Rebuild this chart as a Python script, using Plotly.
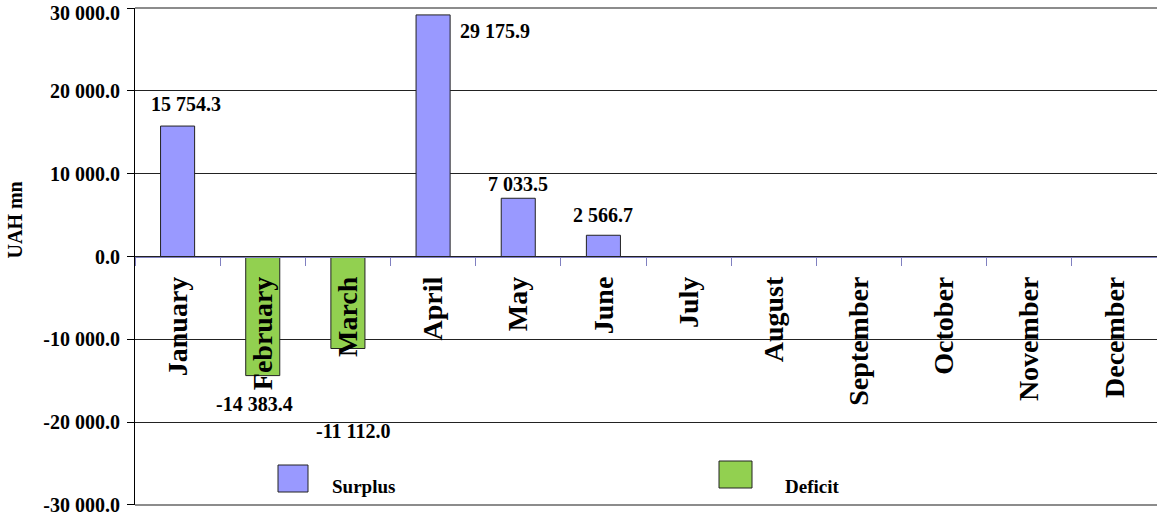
import plotly.graph_objects as go

months = ["January", "February", "March", "April", "May", "June",
          "July", "August", "September", "October", "November", "December"]
surplus = [15754.3, None, None, 29175.9, 7033.5, 2566.7, None, None, None, None, None, None]
deficit = [None, -14383.4, -11112.0, None, None, None, None, None, None, None, None, None]
y_ticks = [30000, 20000, 10000, 0, -10000, -20000, -30000]

# label offsets in pixels (style only)
label_shift = {"January": (8, 22), "February": (-8, -28), "March": (5, -82),
               "April": (62, -16), "May": (0, 14), "June": (0, 20)}

FONT = "Liberation Serif, Times New Roman, serif"

def fmt(v):
    return f"{v:,.1f}".replace(",", " ")

fig = go.Figure()
fig.add_trace(go.Bar(x=months, y=surplus, name="Surplus", width=0.4,
                     marker=dict(color="#9999FF", line=dict(color="#222222", width=1))))
fig.add_trace(go.Bar(x=months, y=deficit, name="Deficit", width=0.4,
                     marker=dict(color="#92D050", line=dict(color="#222222", width=1))))

anns = []
for series in (surplus, deficit):
    for m, v in zip(months, series):
        if v is None:
            continue
        xs, ys = label_shift[m]
        anns.append(dict(x=m, y=v, text=f"<b>{fmt(v)}</b>", showarrow=False,
                         xref="x", yref="y", xshift=xs, yshift=ys,
                         font=dict(family=FONT, size=20, color="black")))

W, H, L, T, PW, PH = 1157, 517, 135, 8, 1022, 497
y_max = max(y_ticks)

# top tick label drawn as annotation so that it stays inside the page
anns.append(dict(x=0, y=y_max, xref="paper", yref="y", xanchor="right", yanchor="top",
                 xshift=-13, yshift=8, text=f"<b>{fmt(y_max)}</b>", showarrow=False,
                 font=dict(family=FONT, size=20, color="black")))

# y-axis title
anns.append(dict(x=(14.5 - L) / PW, y=1 - (220 - T) / PH, xref="paper", yref="paper",
                 xanchor="center", yanchor="middle",
                 text="<b>UAH mn</b>", textangle=-90, showarrow=False,
                 font=dict(family=FONT, size=20, color="black")))

# manual legend
leg = [("Surplus", "#9999FF", 278, 308, 465, 492, 330),
       ("Deficit", "#92D050", 719, 752, 461, 488, 783)]
shapes = []
for name, col, x0, x1, y0, y1, tx in leg:
    shapes.append(dict(type="rect", xref="paper", yref="paper",
                       x0=(x0 - L) / PW, x1=(x1 - L) / PW,
                       y0=1 - (y1 - T) / PH, y1=1 - (y0 - T) / PH,
                       fillcolor=col, line=dict(color="#222222", width=1)))
    anns.append(dict(x=(tx - L) / PW, y=1 - (486 - T) / PH, xref="paper", yref="paper",
                     xanchor="left", yanchor="middle", text=f"<b>{name}</b>", showarrow=False,
                     font=dict(family=FONT, size=19, color="black")))

# plot-area border (top / bottom)
for yy in (0, 1):
    shapes.append(dict(type="line", xref="paper", yref="paper", x0=0, x1=1, y0=yy, y1=yy,
                       line=dict(color="#8C8C8C", width=2)))

fig.update_layout(
    width=W, height=H,
    margin=dict(l=L, r=0, t=T, b=H - T - PH),
    paper_bgcolor="white", plot_bgcolor="white",
    barmode="relative", showlegend=False,
    annotations=anns, shapes=shapes,
    xaxis=dict(type="category", anchor="free", position=0.5, automargin=False,
               showline=True, linecolor="#8080C0", linewidth=1,
               ticks="outside", tickson="boundaries", ticklen=8, tickcolor="#8080C0",
               tickangle=-90, showgrid=False, ticklabelstandoff=8,
               tickvals=months, ticktext=[f"<b>{m}</b>" for m in months],
               tickfont=dict(family=FONT, size=28, color="black")),
    yaxis=dict(range=[-30010, 30010], tickvals=y_ticks, automargin=False,
               ticktext=["" if v == y_max else f"<b>{fmt(v)}</b>" for v in y_ticks],
               showline=True, linecolor="black", linewidth=1,
               ticks="outside", ticklen=7, tickcolor="black",
               ticklabelstandoff=3, ticklabeloverflow="allow",
               showgrid=True, gridcolor="#222222", gridwidth=1,
               zeroline=False,
               tickfont=dict(family=FONT, size=20, color="black")),
)

fig.write_html("out.html", config={"displayModeBar": False},
               post_script="document.body.style.margin='0';")
